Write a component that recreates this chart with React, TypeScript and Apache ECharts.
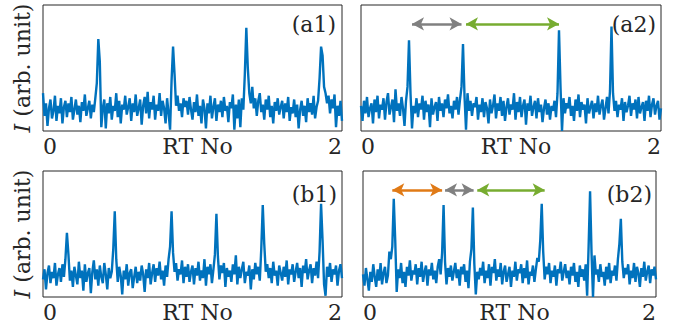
import { useEffect, useRef } from 'react';
import * as echarts from 'echarts';

const xStep = 0.01;
const xTickValues = [0, 2];
const xAxisTitle = 'RT No';
const yAxisTitle = '{i|I} (arb. unit)';
const panelLabels = ['(a1)', '(a2)', '(b1)', '(b2)'];

const seriesA1 = [
  30, 12, 22, 4, 18, 25, 10, 16, 28, 8, 20, 14, 26, 6, 19, 24, 11, 22, 15, 27,
  9, 17, 25, 13, 20, 7, 23, 16, 29, 12, 18, 24, 10, 21, 15, 26, 38, 73, 55, 3,
  18, 25, 2, 22, 14, 27, 9, 20, 16, 30, 11, 24, 6, 21, 17, 28, 13, 19, 26, 8,
  22, 15, 29, 12, 18, 25, 5, 20, 27, 14, 31, 10, 23, 17, 28, 9, 21, 16, 30, 12,
  24, 18, 6, 26, 14, 1, 40, 67, 45, 20, 28, 16, 22, 11, 26, 19, 24, 13, 27, 17,
  9, 23, 15, 29, 12, 20, 6, 25, 18, 2, 22, 14, 28, 10, 19, 26, 8, 21, 15, 24,
  11, 27, 16, 20, 7, 23, 18, 29, 1, 21, 10, 25, 3, 26, 17, 45, 82, 50, 30, 22,
  35, 18, 26, 12, 24, 30, 15, 21, 9, 25, 17, 28, 11, 20, 6, 23, 16, 26, 13, 19,
  24, 10, 22, 15, 27, 8, 19, 14, 25, 11, 21, 2, 17, 24, 12, 20, 7, 26, 15, 22,
  13, 28, 10, 19, 24, 42, 67, 60, 35, 30, 22, 28, 14, 25, 18, 29, 3, 20, 12, 24,
  8,
];

const seriesA2 = [
  20, 8, 24, 14, 27, 11, 18, 22, 6, 25, 15, 28, 10, 21, 17, 26, 9, 23, 30, 13,
  19, 25, 7, 33, 16, 22, 12, 27, 18, 4, 24, 35, 72, 30, 2, 20, 14, 26, 11, 22,
  17, 28, 9, 24, 15, 21, 3, 26, 13, 19, 23, 8, 27, 16, 22, 11, 25, 18, 29, 14,
  20, 10, 24, 17, 27, 13, 25, 35, 69, 28, 1, 30, 16, 24, 12, 22, 19, 27, 9, 21,
  15, 26, 11, 23, 18, 6, 25, 14, 20, 29, 10, 22, 16, 27, 12, 24, 8, 19, 26, 13,
  21, 17, 30, 9, 23, 15, 27, 11, 20, 25, 5, 22, 16, 28, 12, 19, 24, 10, 26, 15,
  21, 7, 18, 25, 13, 22, 9, 20, 16, 24, 11, 30, 80, 35, 0, 26, 14, 22, 18, 27,
  12, 20, 8, 25, 16, 29, 11, 23, 17, 21, 6, 26, 14, 19, 24, 10, 22, 15, 28, 13,
  20, 25, 9, 18, 27, 14, 32, 83, 30, 16, 24, 11, 21, 17, 26, 8, 23, 15, 20, 28,
  12, 22, 17, 25, 10, 27, 14, 19, 23, 8, 24, 16, 28, 11, 21, 26, 13, 20, 24, 9,
  18,
];

const seriesB1 = [
  14, 22, 6, 19, 25, 11, 20, 15, 27, 9, 18, 23, 12, 26, 16, 30, 51, 34, 13, 21,
  8, 24, 17, 10, 28, 15, 21, 5, 26, 12, 19, 23, 3, 20, 29, 14, 22, 9, 25, 16,
  11, 27, 18, 6, 23, 15, 20, 38, 68, 30, 12, 24, 17, 2, 21, 14, 26, 9, 19, 22,
  7, 16, 24, 11, 20, 13, 25, 18, 4, 22, 15, 27, 10, 19, 26, 12, 23, 17, 28, 14,
  21, 9, 25, 16, 30, 40, 68, 35, 20, 27, 13, 22, 18, 29, 11, 24, 16, 26, 12, 20,
  25, 10, 23, 17, 28, 13, 21, 15, 30, 9, 24, 18, 26, 11, 22, 34, 66, 32, 14, 25,
  19, 27, 8, 23, 16, 21, 12, 26, 18, 33, 10, 24, 15, 22, 28, 11, 20, 17, 25, 6,
  22, 14, 27, 18, 24, 13, 38, 73, 42, 20, 26, 15, 23, 11, 28, 17, 21, 9, 25, 19,
  13, 24, 16, 29, 10, 22, 18, 26, 12, 20, 27, 15, 23, 8, 25, 19, 30, 14, 21, 26,
  11, 23, 17, 28, 15, 36, 74, 45, 10, 1, 24, 16, 27, 12, 22, 18, 25, 9, 21, 26,
  15,
];

const seriesB2 = [
  18, 9, 23, 14, 5, 20, 12, 26, 16, 8, 22, 13, 27, 10, 19, 24, 11, 17, 36, 30,
  40, 78, 45, 4, 22, 15, 27, 11, 20, 8, 24, 17, 29, 13, 21, 18, 26, 10, 23, 16,
  28, 12, 20, 25, 9, 22, 17, 27, 14, 21, 11, 24, 30, 18, 35, 73, 28, 10, 23, 16,
  25, 13, 20, 27, 15, 22, 9, 24, 18, 26, 12, 21, 7, 28, 38, 71, 26, 2, 20, 14,
  23, 17, 28, 11, 21, 15, 26, 9, 24, 19, 30, 13, 22, 16, 27, 10, 20, 25, 12, 18,
  24, 8, 21, 16, 28, 13, 22, 19, 26, 11, 23, 15, 29, 10, 20, 17, 25, 12, 22, 31,
  28, 45, 74, 36, 14, 24, 18, 27, 11, 21, 16, 25, 9, 22, 19, 28, 13, 20, 26, 15,
  21, 10, 24, 17, 27, 12, 20, 8, 25, 16, 22, 13, 26, 1, 40, 84, 35, 0, 33, 18,
  22, 12, 26, 16, 20, 9, 24, 14, 27, 11, 21, 17, 25, 13, 30, 42, 62, 28, 15, 23,
  18, 26, 10, 21, 15, 27, 12, 24, 19, 8, 23, 16, 28, 13, 20, 25, 11, 22, 17, 24,
  14,
];

// double-headed arrows: [fromX, toX] at a common height
const arrowLevel = 85;
const arrowsA2 = [
  [0.34, 0.67],
  [0.70, 1.32],
];
const arrowsB2 = [
  [0.20, 0.54],
  [0.56, 0.755],
  [0.78, 1.24],
];

const TEXT = '#262626';
const FONT = 'DejaVu Serif';
const BLUE = '#0072BD';
const arrowColorsA2 = ['#808080', '#77AC30'];
const arrowColorsB2 = ['#E07A16', '#808080', '#77AC30'];

const panelData = [seriesA1, seriesA2, seriesB1, seriesB2];
const panelArrows = [[], arrowsA2, [], arrowsB2];
const panelArrowColors = [[], arrowColorsA2, [], arrowColorsB2];

const grids = [
  { left: 43, top: 5, width: 299, height: 126 },
  { left: 361, top: 5, width: 300, height: 126 },
  { left: 43, top: 171, width: 299, height: 126 },
  { left: 363, top: 171, width: 293, height: 126 },
];

const labelPos = [
  { x: 336, y: 24 },
  { x: 656, y: 24 },
  { x: 337, y: 194 },
  { x: 652, y: 194 },
];

export default function App() {
  const ref = useRef<HTMLDivElement>(null);
  useEffect(() => {
    if (!ref.current) return;
    const chart = echarts.init(ref.current, undefined, { renderer: 'svg' });
    const option: any = {
      animation: false,
      backgroundColor: '#ffffff',
      grid: grids.map((g) => ({
        ...g,
        show: true,
        borderColor: TEXT,
        borderWidth: 1,
        backgroundColor: 'transparent',
        containLabel: false,
      })),
      xAxis: grids.map((_, i) => ({
        type: 'value',
        gridIndex: i,
        min: xTickValues[0],
        max: xTickValues[1],
        interval: xTickValues[1] - xTickValues[0],
        axisLine: { show: false },
        axisTick: { show: false },
        splitLine: { show: false },
        axisLabel: {
          show: true,
          margin: 4,
          fontSize: 22,
          fontFamily: FONT,
          color: TEXT,
          alignMinLabel: 'left',
          alignMaxLabel: 'right',
        },
        name: xAxisTitle,
        nameLocation: 'middle',
        nameGap: 4,
        nameMoveOverlap: false,
        nameTextStyle: {
          fontSize: 22,
          fontFamily: FONT,
          color: TEXT,
          verticalAlign: 'top',
          padding: [0, 0, 0, 10],
        },
      })),
      yAxis: grids.map((_, i) => ({
        type: 'value',
        gridIndex: i,
        min: 0,
        max: 100,
        axisLine: { show: false },
        axisTick: { show: false },
        splitLine: { show: false },
        axisLabel: { show: false },
        name: i % 2 === 0 ? yAxisTitle : '',
        nameLocation: 'middle',
        nameGap: 10,
        nameMoveOverlap: false,
        nameTextStyle: {
          fontSize: 22,
          fontFamily: FONT,
          color: TEXT,
          rich: {
            i: { fontSize: 22, fontFamily: FONT, color: TEXT, fontStyle: 'italic' },
          },
        },
      })),
      series: panelData.map((vals, i) => ({
        type: 'line',
        xAxisIndex: i,
        yAxisIndex: i,
        data: vals.map((v, k) => [k * xStep, v]),
        showSymbol: false,
        symbol: 'none',
        clip: true,
        silent: true,
        lineStyle: { color: BLUE, width: 2.4 },
        markLine: panelArrows[i].length
          ? {
              silent: true,
              symbol: ['arrow', 'arrow'],
              symbolSize: [10, 12],
              label: { show: false },
              emphasis: { disabled: true },
              data: panelArrows[i].map((a: number[], j: number) => [
                {
                  coord: [a[0], arrowLevel],
                  lineStyle: { color: panelArrowColors[i][j], width: 2.5, type: 'solid' },
                  itemStyle: { color: panelArrowColors[i][j] },
                },
                { coord: [a[1], arrowLevel] },
              ]),
            }
          : undefined,
      })),
      graphic: panelLabels.map((t, i) => ({
        type: 'text',
        x: labelPos[i].x,
        y: labelPos[i].y,
        silent: true,
        style: {
          text: t,
          fill: TEXT,
          font: `22px "${FONT}"`,
          align: 'right',
          verticalAlign: 'middle',
        },
      })),
    };
    chart.setOption(option);
    return () => chart.dispose();
  }, []);
  return (
    <div
      ref={ref}
      style={{ position: 'absolute', left: 0, top: 0, width: 674, height: 333 }}
    />
  );
}
